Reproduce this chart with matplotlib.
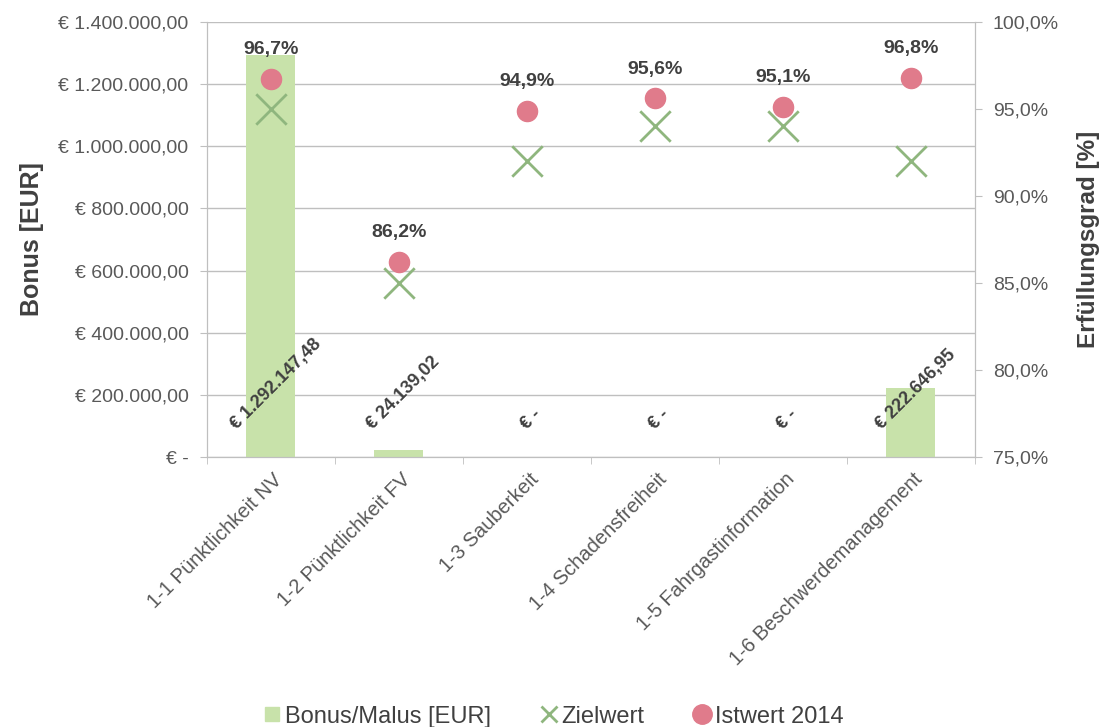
import matplotlib.pyplot as plt
from matplotlib.lines import Line2D
from matplotlib.ticker import FuncFormatter, MultipleLocator
from matplotlib.transforms import ScaledTranslation

plt.rcParams['font.family'] = ['Liberation Sans', 'DejaVu Sans']

categories = [
    "1-1 Pünktlichkeit NV",
    "1-2 Pünktlichkeit FV",
    "1-3 Sauberkeit",
    "1-4 Schadensfreiheit",
    "1-5 Fahrgastinformation",
    "1-6 Beschwerdemanagement",
]
bonus = [1292147.48, 24139.02, 0, 0, 0, 222646.95]
zielwert = [95.0, 85.0, 92.0, 94.0, 94.0, 92.0]
istwert = [96.7, 86.2, 94.9, 95.6, 95.1, 96.8]

bar_color = "#c8e2aa"
x_color = "#8fb67e"
dot_color = "#e07b8b"
text_color = "#404040"
tick_color = "#595959"
grid_color = "#bfbfbf"


def eur(v):
    if abs(v) < 0.005:
        return "€ -"
    s = f"{v:,.2f}".replace(",", "X").replace(".", ",").replace("X", ".")
    return "€ " + s


def pct(v):
    return f"{v:.1f}%".replace(".", ",")


fig = plt.figure(figsize=(11.05, 7.27), dpi=100)
ax1 = fig.add_axes([0.187, 0.371, 0.695, 0.599])
ax2 = ax1.twinx()

pos = list(range(len(categories)))
ax1.bar(pos, bonus, width=0.38, color=bar_color, zorder=2)

ax1.set_xlim(-0.5, len(categories) - 0.5)
ax1.set_ylim(0, 1400000)
ax1.yaxis.set_major_locator(MultipleLocator(200000))
ax1.yaxis.set_major_formatter(FuncFormatter(lambda v, p: eur(v)))
ax1.set_axisbelow(True)
ax1.grid(axis="y", color=grid_color, lw=1)

# category labels at centers, tick marks at boundaries
ax1.set_xticks(pos)
ax1.set_xticklabels(categories, rotation=45, ha="right", rotation_mode="anchor",
                    fontsize=14.5, color=tick_color)
ax1.tick_params(axis="x", which="major", length=0, pad=9)
shift = ScaledTranslation(0.02, 0, fig.dpi_scale_trans)
for lbl in ax1.get_xticklabels():
    lbl.set_transform(lbl.get_transform() + shift)
ax1.set_xticks([p - 0.5 for p in pos] + [len(categories) - 0.5], minor=True)
ax1.tick_params(axis="x", which="minor", length=5, color=grid_color)
ax1.tick_params(axis="y", labelsize=14, labelcolor=tick_color, length=5,
                color=grid_color, pad=8)

for v, p in zip(bonus, pos):
    ax1.text(p + 0.04, 78000, eur(v), rotation=45, ha="center", va="bottom",
             fontsize=13, fontweight="bold", color=text_color, zorder=5)

ax2.set_ylim(75, 100)
ax2.yaxis.set_major_locator(MultipleLocator(5))
ax2.yaxis.set_major_formatter(FuncFormatter(lambda v, p: pct(v)))
ax2.tick_params(axis="y", labelsize=14, labelcolor=tick_color, length=5,
                color=grid_color, pad=8)

ax2.scatter(pos, zielwert, marker="x", s=480, color=x_color, linewidths=2, zorder=3)
ax2.scatter(pos, istwert, marker="o", s=210, color=dot_color, zorder=4)
for p, v in zip(pos, istwert):
    ax2.annotate(pct(v), (p, v), xytext=(0, 15), textcoords="offset points",
                 ha="center", va="bottom", fontsize=14, fontweight="bold",
                 color=text_color)

for ax in (ax1, ax2):
    ax.spines["top"].set_visible(False)
    for side in ("left", "right", "bottom"):
        ax.spines[side].set_color(grid_color)

ax1.set_ylabel("Bonus [EUR]", fontsize=18, fontweight="bold", color=text_color, labelpad=10)
ax2.set_ylabel("Erfüllungsgrad [%]", fontsize=17.5, fontweight="bold", color=text_color, labelpad=13)

handles = [
    Line2D([], [], ls="", marker="s", markersize=10, color=bar_color),
    Line2D([], [], ls="", marker="x", markersize=12, markeredgewidth=2, color=x_color),
    Line2D([], [], ls="", marker="o", markersize=14, color=dot_color),
]
fig.legend(handles, ["Bonus/Malus [EUR]", "Zielwert", "Istwert 2014"],
           loc="lower center", bbox_to_anchor=(0.5, -0.03), ncol=3, frameon=False,
           fontsize=17, handletextpad=0.1, columnspacing=2.0, handlelength=0.9,
           labelcolor=text_color)

fig.savefig("out.png", dpi=100)
